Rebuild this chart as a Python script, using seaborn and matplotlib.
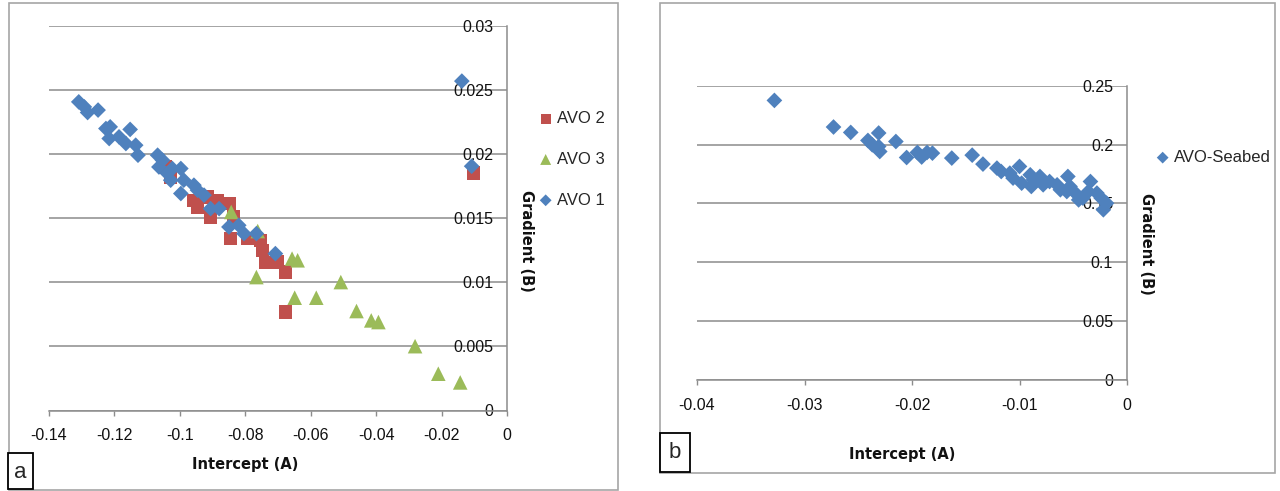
import matplotlib
matplotlib.use("Agg")
import matplotlib.pyplot as plt
import seaborn as sns
from matplotlib.patches import Rectangle

# ---------------- data ----------------
avo1_x = [-0.1309, -0.1292, -0.1282, -0.1250, -0.1226, -0.1213, -0.1216, -0.1186, -0.1165,
          -0.1152, -0.1135, -0.1128, -0.1068, -0.1053, -0.1064, -0.1023, -0.0997, -0.1038,
          -0.1028, -0.0988, -0.0997, -0.0957, -0.0946, -0.0926, -0.0906, -0.0880, -0.0850,
          -0.0820, -0.0804, -0.0766, -0.0708, -0.0138, -0.0108]
avo1_y = [0.02408, 0.02369, 0.02325, 0.02344, 0.02200, 0.02213, 0.02122, 0.02135, 0.02083,
          0.02193, 0.02070, 0.01992, 0.01992, 0.01953, 0.01900, 0.01888, 0.01888, 0.01849,
          0.01797, 0.01797, 0.01693, 0.01758, 0.01719, 0.01680, 0.01575, 0.01575, 0.01432,
          0.01445, 0.01380, 0.01380, 0.01224, 0.02570, 0.01906]

avo2_x = [-0.1043, -0.1028, -0.0957, -0.0946, -0.0916, -0.0885, -0.0850, -0.0906, -0.0835,
          -0.0845, -0.0794, -0.0753, -0.0748, -0.0738, -0.0702, -0.0677, -0.0677, -0.0102]
avo2_y = [0.01900, 0.01822, 0.01640, 0.01588, 0.01666, 0.01640, 0.01614, 0.01510, 0.01510,
          0.01341, 0.01341, 0.01328, 0.01250, 0.01152, 0.01158, 0.01080, 0.00768, 0.01853]

avo3_x = [-0.0843, -0.0762, -0.0657, -0.0640, -0.0766, -0.0649, -0.0583, -0.0508, -0.0460,
          -0.0415, -0.0393, -0.0281, -0.0210, -0.0143]
avo3_y = [0.01549, 0.01400, 0.01185, 0.01172, 0.01041, 0.00880, 0.00880, 0.01002, 0.00776,
          0.00703, 0.00690, 0.00502, 0.00287, 0.00219]

seabed_x = [-0.0328, -0.0273, -0.0257, -0.0241, -0.0237, -0.0231, -0.0231, -0.0230, -0.0215,
            -0.0205, -0.0195, -0.0191, -0.0186, -0.0181, -0.0163, -0.0144, -0.0134, -0.0121,
            -0.0117, -0.0109, -0.0100, -0.0106, -0.0098, -0.0090, -0.0087, -0.0081, -0.0089,
            -0.0078, -0.0072, -0.0065, -0.0062, -0.0055, -0.0053, -0.0056, -0.0048, -0.0045,
            -0.0034, -0.0036, -0.0041, -0.0028, -0.0024, -0.0022, -0.0019]
seabed_y = [0.2375, 0.2149, 0.2103, 0.2035, 0.1998, 0.2098, 0.1984, 0.1941, 0.2026,
            0.1890, 0.1933, 0.1894, 0.1933, 0.1927, 0.1885, 0.1910, 0.1834, 0.1800,
            0.1771, 0.1757, 0.1814, 0.1715, 0.1672, 0.1743, 0.1700, 0.1729, 0.1644,
            0.1658, 0.1686, 0.1658, 0.1616, 0.1729, 0.1644, 0.1601, 0.1588, 0.1530,
            0.1686, 0.1601, 0.1545, 0.1588, 0.1545, 0.1446, 0.1502]

a_xticks = [-0.14, -0.12, -0.10, -0.08, -0.06, -0.04, -0.02, 0.0]
a_xticklabels = ["-0.14", "-0.12", "-0.1", "-0.08", "-0.06", "-0.04", "-0.02", "0"]
a_yticks = [0.0, 0.005, 0.01, 0.015, 0.02, 0.025, 0.03]
a_yticklabels = ["0", "0.005", "0.01", "0.015", "0.02", "0.025", "0.03"]

b_xticks = [-0.04, -0.03, -0.02, -0.01, 0.0]
b_xticklabels = ["-0.04", "-0.03", "-0.02", "-0.01", "0"]
b_yticks = [0.0, 0.05, 0.10, 0.15, 0.20, 0.25]
b_yticklabels = ["0", "0.05", "0.1", "0.15", "0.2", "0.25"]

# ---------------- style ----------------
sns.set_style("white")
plt.rcParams['font.family'] = ['Liberation Sans', 'DejaVu Sans']

BLUE = "#4F81BD"
RED = "#C0504D"
GREEN = "#9BBB59"
GRID = "#8C8C8C"
FRAME = "#A6A6A6"

W, H = 1280, 491
fig = plt.figure(figsize=(12.8, 4.91), dpi=100)


def px_axes(x0, x1, ytop, ybot):
    return fig.add_axes([x0 / W, 1 - ybot / H, (x1 - x0) / W, (ybot - ytop) / H])


def style(ax, xlim, ylim, xt, xtl, yt, ytl):
    ax.set_xlim(xlim)
    ax.set_ylim(ylim)
    ax.set_axisbelow(True)
    ax.yaxis.tick_right()
    ax.set_xticks(xt, labels=xtl)
    ax.set_yticks(yt, labels=ytl, ha='right')
    ax.grid(axis='y', color=GRID, lw=1.1)
    ax.grid(axis='x', visible=False)
    for s in ['top', 'left']:
        ax.spines[s].set_visible(False)
    for s in ['bottom', 'right']:
        ax.spines[s].set_color(GRID)
        ax.spines[s].set_linewidth(1.1)
    ax.tick_params(axis='y', length=0, pad=-10, labelsize=11.5, labelcolor='#111111')
    ax.tick_params(axis='x', direction='out', length=3.6, width=1.0, color=GRID,
                   pad=9, labelsize=11.5, labelcolor='#111111', bottom=True)
    ax.set_xlabel('')
    ax.set_ylabel('')


# ---------------- panel a ----------------
ax1 = px_axes(49, 507, 26, 410.5)
sns.scatterplot(x=avo2_x, y=avo2_y, ax=ax1, marker='s', s=90, color=RED,
                edgecolor='none', label='AVO 2', zorder=3, clip_on=False)
sns.scatterplot(x=avo3_x, y=avo3_y, ax=ax1, marker='^', s=110, color=GREEN,
                edgecolor='none', label='AVO 3', zorder=4, clip_on=False)
sns.scatterplot(x=avo1_x, y=avo1_y, ax=ax1, marker='D', s=64, color=BLUE,
                edgecolor='none', label='AVO 1', zorder=5, clip_on=False)
style(ax1, (-0.14, 0.0), (0.0, 0.03), a_xticks, a_xticklabels, a_yticks, a_yticklabels)
h, l = ax1.get_legend_handles_labels()
ax1.get_legend().remove()
fig.legend(h, l, loc='upper left', bbox_to_anchor=(539 / W, 1 - 111 / H),
           frameon=False, fontsize=12, handlelength=0.8, handletextpad=0.3,
           labelspacing=1.55, borderpad=0, borderaxespad=0, markerscale=0.75)

# ---------------- panel b ----------------
ax2 = px_axes(697, 1127, 85.7, 380)
sns.scatterplot(x=seabed_x, y=seabed_y, ax=ax2, marker='D', s=64, color=BLUE,
                edgecolor='none', label='AVO-Seabed', zorder=5, clip_on=False)
style(ax2, (-0.04, 0.0), (0.0, 0.25), b_xticks, b_xticklabels, b_yticks, b_yticklabels)
h, l = ax2.get_legend_handles_labels()
ax2.get_legend().remove()
fig.legend(h, l, loc='upper left', bbox_to_anchor=(1156 / W, 1 - 150 / H),
           frameon=False, fontsize=12, handlelength=0.8, handletextpad=0.3,
           borderpad=0, borderaxespad=0, markerscale=0.75)

# ---------------- axis titles ----------------
bold = dict(family='DejaVu Sans', fontweight='bold', fontsize=10.5, color='#111111',
            ha='center', va='center')
fig.text(245 / W, 1 - 465 / H, 'Intercept (A)', **bold)
fig.text(527 / W, 1 - 241 / H, 'Gradient (B)', rotation=270, **bold)
fig.text(902 / W, 1 - 455 / H, 'Intercept (A)', **bold)
fig.text(1147 / W, 1 - 244 / H, 'Gradient (B)', rotation=270, **bold)

# ---------------- frames and panel letters ----------------
fig.add_artist(Rectangle((9 / W, 1 - 490 / H), (618 - 9) / W, (490 - 3) / H,
                         transform=fig.transFigure, fill=False, ec=FRAME, lw=1.2))
fig.add_artist(Rectangle((660 / W, 1 - 473 / H), (1275 - 660) / W, (473 - 3) / H,
                         transform=fig.transFigure, fill=False, ec=FRAME, lw=1.2))
fig.add_artist(Rectangle((8 / W, 1 - 489 / H), 25 / W, 36 / H,
                         transform=fig.transFigure, fill=True, fc='white', ec='black', lw=1.3))
fig.add_artist(Rectangle((660 / W, 1 - 472 / H), 30 / W, 39 / H,
                         transform=fig.transFigure, fill=True, fc='white', ec='black', lw=1.3))
fig.text(20.5 / W, 1 - 472 / H, 'a', fontsize=16, ha='center', va='center')
fig.text(675 / W, 1 - 453 / H, 'b', fontsize=16, ha='center', va='center')

fig.savefig('out.png', dpi=100)
